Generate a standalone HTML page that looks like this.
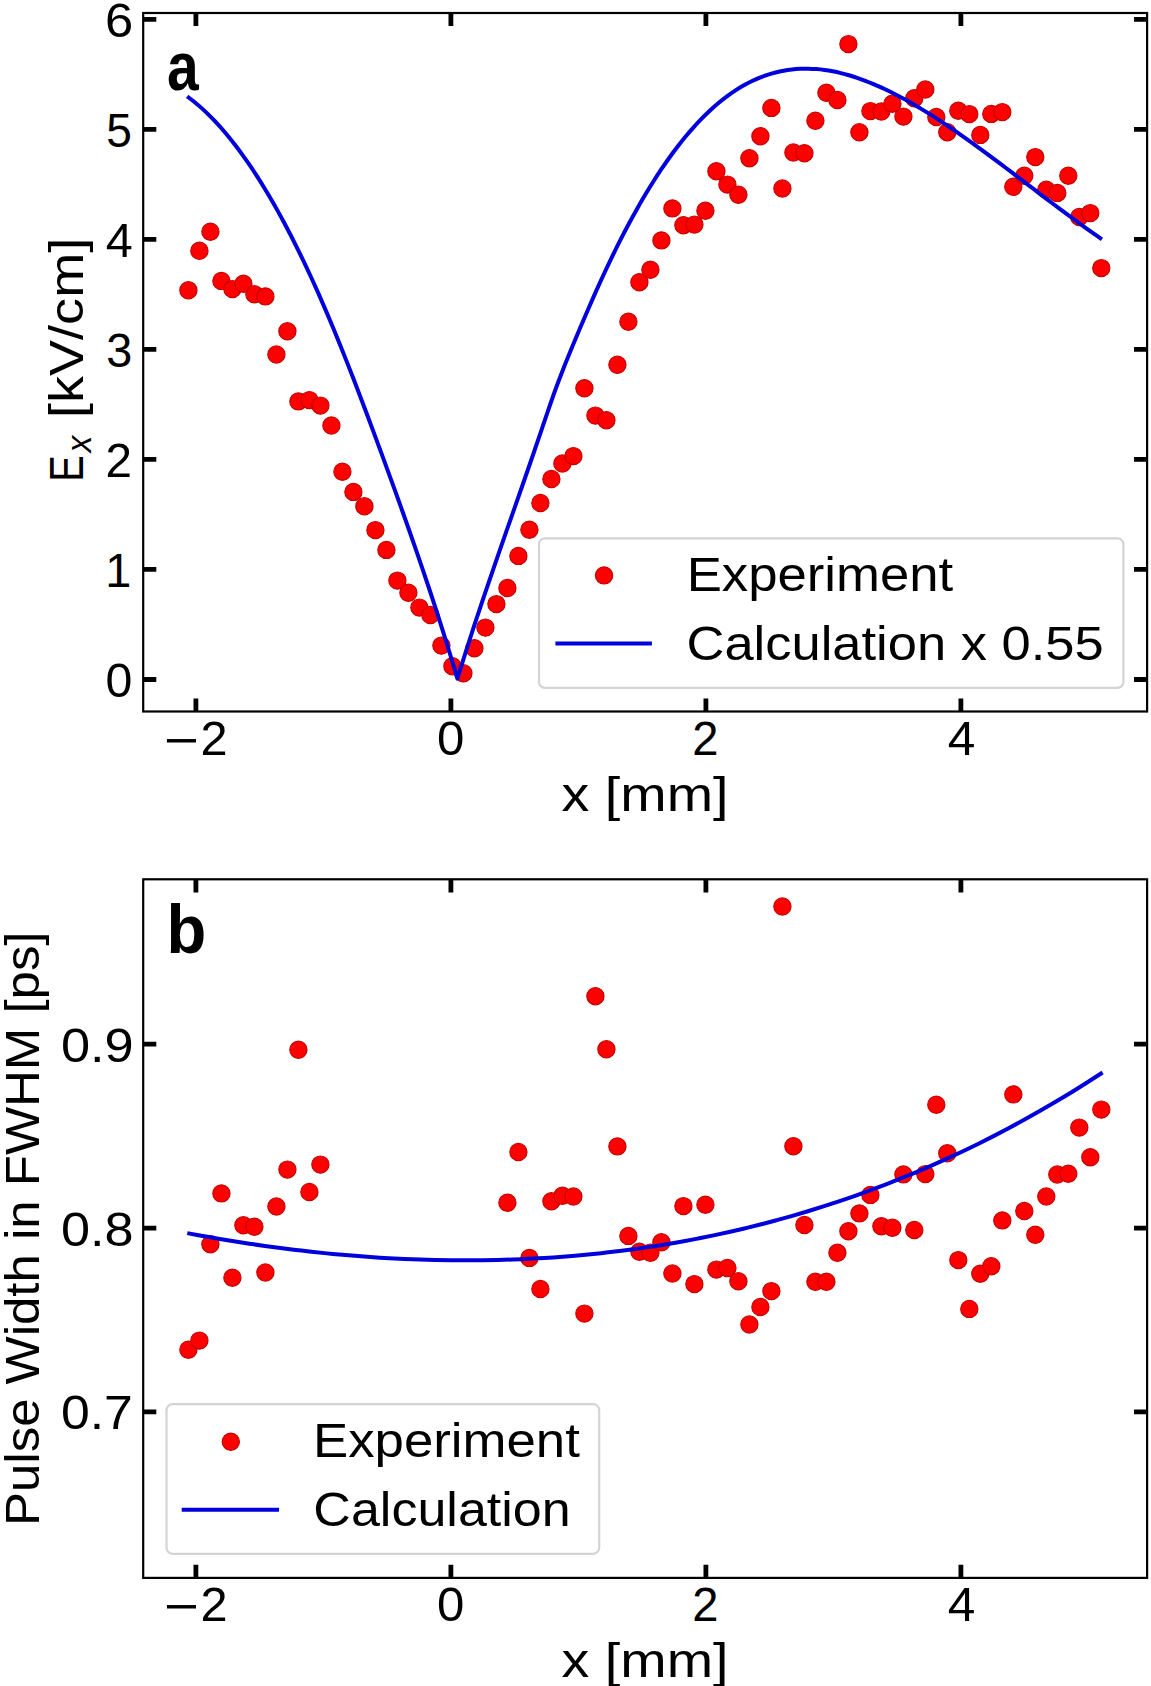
<!DOCTYPE html>
<html><head><meta charset="utf-8"><style>
html,body{margin:0;padding:0;background:#fff;}
svg{display:block;font-family:"Liberation Sans",sans-serif;font-kerning:none;}
</style></head><body>
<svg width="1151" height="1686" viewBox="0 0 1151 1686">
<rect width="1151" height="1686" fill="#fff"/>
<g fill="#ff0000" stroke="#c80000" stroke-width="1.2"><circle cx="188.4" cy="290.3" r="8.6"/><circle cx="199.4" cy="250.8" r="8.6"/><circle cx="210.4" cy="231.7" r="8.6"/><circle cx="221.4" cy="280.9" r="8.6"/><circle cx="232.4" cy="289.1" r="8.6"/><circle cx="243.4" cy="283.8" r="8.6"/><circle cx="254.4" cy="294.3" r="8.6"/><circle cx="265.4" cy="296.4" r="8.6"/><circle cx="276.4" cy="354.5" r="8.6"/><circle cx="287.4" cy="331.3" r="8.6"/><circle cx="298.4" cy="401.4" r="8.6"/><circle cx="309.4" cy="400.1" r="8.6"/><circle cx="320.4" cy="405.6" r="8.6"/><circle cx="331.4" cy="425.5" r="8.6"/><circle cx="342.4" cy="471.7" r="8.6"/><circle cx="353.4" cy="491.9" r="8.6"/><circle cx="364.4" cy="506.3" r="8.6"/><circle cx="375.4" cy="530.1" r="8.6"/><circle cx="386.4" cy="549.9" r="8.6"/><circle cx="397.4" cy="580.6" r="8.6"/><circle cx="408.4" cy="592.8" r="8.6"/><circle cx="419.4" cy="607.6" r="8.6"/><circle cx="430.4" cy="615.0" r="8.6"/><circle cx="441.4" cy="645.6" r="8.6"/><circle cx="452.4" cy="666.2" r="8.6"/><circle cx="463.4" cy="673.3" r="8.6"/><circle cx="474.4" cy="648.2" r="8.6"/><circle cx="485.4" cy="627.6" r="8.6"/><circle cx="496.4" cy="604.1" r="8.6"/><circle cx="507.4" cy="588.0" r="8.6"/><circle cx="518.4" cy="555.9" r="8.6"/><circle cx="529.4" cy="529.7" r="8.6"/><circle cx="540.4" cy="503.0" r="8.6"/><circle cx="551.4" cy="479.0" r="8.6"/><circle cx="562.4" cy="463.5" r="8.6"/><circle cx="573.4" cy="456.1" r="8.6"/><circle cx="584.4" cy="388.2" r="8.6"/><circle cx="595.4" cy="415.6" r="8.6"/><circle cx="606.4" cy="420.2" r="8.6"/><circle cx="617.4" cy="364.8" r="8.6"/><circle cx="628.4" cy="321.7" r="8.6"/><circle cx="639.4" cy="282.2" r="8.6"/><circle cx="650.4" cy="269.8" r="8.6"/><circle cx="661.4" cy="240.4" r="8.6"/><circle cx="672.4" cy="208.4" r="8.6"/><circle cx="683.4" cy="225.2" r="8.6"/><circle cx="694.4" cy="224.6" r="8.6"/><circle cx="705.4" cy="210.7" r="8.6"/><circle cx="716.4" cy="171.2" r="8.6"/><circle cx="727.4" cy="184.6" r="8.6"/><circle cx="738.4" cy="194.8" r="8.6"/><circle cx="749.4" cy="158.2" r="8.6"/><circle cx="760.4" cy="136.2" r="8.6"/><circle cx="771.4" cy="107.9" r="8.6"/><circle cx="782.4" cy="188.5" r="8.6"/><circle cx="793.4" cy="152.5" r="8.6"/><circle cx="804.4" cy="153.2" r="8.6"/><circle cx="815.4" cy="120.8" r="8.6"/><circle cx="826.4" cy="92.8" r="8.6"/><circle cx="837.4" cy="100.0" r="8.6"/><circle cx="848.4" cy="44.1" r="8.6"/><circle cx="859.4" cy="132.3" r="8.6"/><circle cx="870.4" cy="111.1" r="8.6"/><circle cx="881.4" cy="111.5" r="8.6"/><circle cx="892.4" cy="103.7" r="8.6"/><circle cx="903.4" cy="116.6" r="8.6"/><circle cx="914.3" cy="98.2" r="8.6"/><circle cx="925.3" cy="89.5" r="8.6"/><circle cx="936.3" cy="117.0" r="8.6"/><circle cx="947.3" cy="132.2" r="8.6"/><circle cx="958.3" cy="110.7" r="8.6"/><circle cx="969.3" cy="114.1" r="8.6"/><circle cx="980.3" cy="134.9" r="8.6"/><circle cx="991.3" cy="113.9" r="8.6"/><circle cx="1002.3" cy="112.1" r="8.6"/><circle cx="1013.3" cy="186.8" r="8.6"/><circle cx="1024.3" cy="175.8" r="8.6"/><circle cx="1035.3" cy="157.1" r="8.6"/><circle cx="1046.3" cy="189.8" r="8.6"/><circle cx="1057.3" cy="192.9" r="8.6"/><circle cx="1068.3" cy="175.7" r="8.6"/><circle cx="1079.3" cy="217.0" r="8.6"/><circle cx="1090.3" cy="213.1" r="8.6"/><circle cx="1101.3" cy="268.1" r="8.6"/></g>
<path d="M187.20,96.37C188.35,97.26 191.82,99.83 194.13,101.71C196.44,103.58 198.75,105.55 201.06,107.62C203.37,109.69 205.67,111.85 207.98,114.11C210.29,116.37 212.60,118.72 214.91,121.17C217.22,123.62 219.53,126.16 221.84,128.80C224.15,131.44 226.46,134.17 228.77,137.00C231.08,139.83 233.39,142.75 235.70,145.76C238.01,148.77 240.32,151.88 242.63,155.08C244.94,158.28 247.24,161.58 249.55,164.97C251.86,168.36 254.17,171.84 256.48,175.42C258.79,179.00 261.10,182.67 263.41,186.43C265.72,190.19 268.03,194.05 270.34,198.00C272.65,201.95 274.96,205.99 277.27,210.12C279.58,214.25 281.88,218.47 284.19,222.79C286.50,227.11 288.81,231.52 291.12,236.02C293.43,240.52 295.74,245.11 298.05,249.79C300.36,254.47 302.67,259.25 304.98,264.12C307.29,268.99 309.60,273.94 311.91,278.99C314.22,284.04 316.53,289.18 318.84,294.41C321.15,299.64 323.45,304.97 325.76,310.37C328.07,315.77 330.38,321.26 332.69,326.83C335.00,332.40 337.31,338.05 339.62,343.77C341.93,349.49 344.24,355.27 346.55,361.12C348.86,366.97 351.17,372.88 353.48,378.85C355.79,384.82 358.10,390.84 360.41,396.91C362.72,402.98 365.02,409.10 367.33,415.26C369.64,421.42 371.95,427.63 374.26,433.86C376.57,440.09 378.88,446.36 381.19,452.65C383.50,458.94 385.81,465.25 388.12,471.59C390.43,477.93 392.74,484.28 395.05,490.67C397.36,497.06 399.66,503.48 401.97,509.95C404.28,516.42 406.59,522.92 408.90,529.49C411.21,536.06 413.52,542.66 415.83,549.34C418.14,556.02 420.45,562.76 422.76,569.58C425.07,576.40 427.38,583.28 429.69,590.25C432.00,597.22 434.31,604.27 436.62,611.42C438.93,618.57 441.23,625.81 443.54,633.16C445.85,640.51 448.16,647.95 450.47,655.52C452.78,663.09 456.25,674.75 457.40,678.60C458.76,674.25 462.84,661.07 465.56,652.51C468.28,643.95 471.00,635.55 473.72,627.23C476.44,618.91 479.15,610.73 481.87,602.62C484.59,594.51 487.31,586.51 490.03,578.55C492.75,570.59 495.47,562.72 498.19,554.87C500.91,547.02 503.63,539.23 506.35,531.44C509.07,523.65 511.79,515.90 514.51,508.12C517.23,500.34 519.95,492.57 522.67,484.76C525.39,476.95 528.10,469.13 530.82,461.24C533.54,453.35 536.26,445.38 538.98,437.39C541.70,429.40 544.42,421.21 547.14,413.30C549.86,405.39 552.58,397.43 555.30,389.95C558.02,382.47 560.74,375.37 563.46,368.43C566.18,361.50 568.90,354.94 571.62,348.34C574.34,341.73 577.05,335.24 579.77,328.80C582.49,322.36 585.21,315.97 587.93,309.69C590.65,303.41 593.37,297.21 596.09,291.13C598.81,285.05 601.53,279.07 604.25,273.23C606.97,267.39 609.69,261.67 612.41,256.08C615.13,250.49 617.84,245.03 620.56,239.69C623.28,234.35 626.00,229.14 628.72,224.06C631.44,218.98 634.16,214.02 636.88,209.19C639.60,204.36 642.32,199.67 645.04,195.10C647.76,190.53 650.48,186.09 653.20,181.78C655.92,177.47 658.64,173.28 661.36,169.23C664.08,165.18 666.79,161.25 669.51,157.46C672.23,153.67 674.95,150.00 677.67,146.47C680.39,142.94 683.11,139.53 685.83,136.26C688.55,132.98 691.27,129.84 693.99,126.82C696.71,123.80 699.43,120.91 702.15,118.14C704.87,115.37 707.59,112.73 710.31,110.21C713.03,107.69 715.74,105.30 718.46,103.03C721.18,100.76 723.90,98.60 726.62,96.57C729.34,94.54 732.06,92.62 734.78,90.83C737.50,89.04 740.22,87.37 742.94,85.81C745.66,84.25 748.38,82.81 751.10,81.48C753.82,80.15 756.53,78.94 759.25,77.83C761.97,76.72 764.69,75.72 767.41,74.82C770.13,73.92 772.85,73.13 775.57,72.44C778.29,71.75 781.01,71.16 783.73,70.66C786.45,70.16 789.17,69.77 791.89,69.46C794.61,69.15 797.33,68.94 800.05,68.82C802.77,68.69 805.48,68.66 808.20,68.71C810.92,68.76 813.64,68.89 816.36,69.10C819.08,69.31 821.80,69.61 824.52,69.98C827.24,70.35 829.96,70.79 832.68,71.31C835.40,71.83 838.12,72.42 840.84,73.08C843.56,73.74 846.27,74.48 848.99,75.27C851.71,76.06 854.43,76.92 857.15,77.84C859.87,78.76 862.59,79.74 865.31,80.78C868.03,81.82 870.75,82.91 873.47,84.06C876.19,85.21 878.91,86.41 881.63,87.66C884.35,88.91 887.07,90.21 889.79,91.55C892.51,92.89 895.22,94.28 897.94,95.71C900.66,97.14 903.38,98.61 906.10,100.12C908.82,101.63 911.54,103.18 914.26,104.76C916.98,106.34 919.70,107.96 922.42,109.61C925.14,111.26 927.86,112.95 930.58,114.66C933.30,116.37 936.02,118.12 938.74,119.89C941.46,121.66 944.17,123.47 946.89,125.29C949.61,127.12 952.33,128.97 955.05,130.84C957.77,132.71 960.49,134.61 963.21,136.53C965.93,138.45 968.65,140.38 971.37,142.34C974.09,144.30 976.81,146.27 979.53,148.26C982.25,150.25 984.96,152.25 987.68,154.27C990.40,156.29 993.12,158.31 995.84,160.35C998.56,162.39 1001.28,164.44 1004.00,166.49C1006.72,168.55 1009.44,170.61 1012.16,172.68C1014.88,174.75 1017.60,176.83 1020.32,178.90C1023.04,180.97 1025.76,183.05 1028.48,185.13C1031.20,187.21 1033.91,189.29 1036.63,191.36C1039.35,193.43 1042.07,195.50 1044.79,197.57C1047.51,199.63 1050.23,201.70 1052.95,203.75C1055.67,205.80 1058.39,207.85 1061.11,209.88C1063.83,211.91 1066.55,213.94 1069.27,215.95C1071.99,217.96 1074.71,219.97 1077.43,221.95C1080.15,223.93 1082.86,225.90 1085.58,227.85C1088.30,229.80 1091.02,231.73 1093.74,233.64C1096.46,235.55 1100.54,238.36 1101.90,239.30" stroke="#0000dd" stroke-width="4.0" fill="none" stroke-linejoin="round" stroke-linecap="butt"/>
<rect x="539.00" y="538.30" width="584.40" height="149.60" rx="6" ry="6" fill="#fff" fill-opacity="0.8" stroke="#d4d4d4" stroke-width="2.2"/>
<circle cx="604.05" cy="575.40" r="8.60" fill="#ff0000" stroke="#c80000" stroke-width="1.2"/>
<path d="M555.40,643.40H651.90" stroke="#0000dd" stroke-width="4.0"/>
<text x="686.68" y="591.20" font-size="48.8" font-weight="normal" font-style="normal" textLength="266.51" lengthAdjust="spacingAndGlyphs" >Experiment</text>
<text x="686.54" y="659.80" font-size="48.8" font-weight="normal" font-style="normal" textLength="417.07" lengthAdjust="spacingAndGlyphs" >Calculation x 0.55</text>
<path d="M195.90,711.50v-13.10M195.90,13.00v13.10M450.90,711.50v-13.10M450.90,13.00v13.10M705.90,711.50v-13.10M705.90,13.00v13.10M960.90,711.50v-13.10M960.90,13.00v13.10M143.20,679.50h13.10M1147.10,679.50h-13.10M143.20,569.47h13.10M1147.10,569.47h-13.10M143.20,459.44h13.10M1147.10,459.44h-13.10M143.20,349.41h13.10M1147.10,349.41h-13.10M143.20,239.38h13.10M1147.10,239.38h-13.10M143.20,129.35h13.10M1147.10,129.35h-13.10M143.20,19.32h13.10M1147.10,19.32h-13.10" stroke="#000" stroke-width="4.8" fill="none"/>
<rect x="143.20" y="13.00" width="1003.90" height="698.50" fill="none" stroke="#000" stroke-width="2.2"/>
<text x="163.95" y="757.00" font-size="48.8" font-weight="normal" font-style="normal" textLength="34.98" lengthAdjust="spacingAndGlyphs" >−</text>
<text x="200.55" y="755.00" font-size="48.8" font-weight="normal" font-style="normal" textLength="27.10" lengthAdjust="spacingAndGlyphs" >2</text>
<text x="436.98" y="755.00" font-size="48.8" font-weight="normal" font-style="normal" textLength="27.34" lengthAdjust="spacingAndGlyphs" >0</text>
<text x="692.23" y="755.00" font-size="48.8" font-weight="normal" font-style="normal" textLength="26.25" lengthAdjust="spacingAndGlyphs" >2</text>
<text x="947.76" y="755.00" font-size="48.8" font-weight="normal" font-style="normal" textLength="27.59" lengthAdjust="spacingAndGlyphs" >4</text>
<text x="105.41" y="697.05" font-size="48.8" font-weight="normal" font-style="normal" textLength="26.88" lengthAdjust="spacingAndGlyphs" >0</text>
<text x="105.33" y="587.02" font-size="48.8" font-weight="normal" font-style="normal" textLength="26.06" lengthAdjust="spacingAndGlyphs" >1</text>
<text x="105.40" y="476.99" font-size="48.8" font-weight="normal" font-style="normal" textLength="26.49" lengthAdjust="spacingAndGlyphs" >2</text>
<text x="106.22" y="366.96" font-size="48.8" font-weight="normal" font-style="normal" textLength="26.04" lengthAdjust="spacingAndGlyphs" >3</text>
<text x="105.68" y="256.93" font-size="48.8" font-weight="normal" font-style="normal" textLength="27.04" lengthAdjust="spacingAndGlyphs" >4</text>
<text x="106.15" y="146.90" font-size="48.8" font-weight="normal" font-style="normal" textLength="25.69" lengthAdjust="spacingAndGlyphs" >5</text>
<text x="104.92" y="36.87" font-size="48.8" font-weight="normal" font-style="normal" textLength="28.20" lengthAdjust="spacingAndGlyphs" >6</text>
<text x="561.57" y="810.70" font-size="48.8" font-weight="normal" font-style="normal" textLength="166.99" lengthAdjust="spacingAndGlyphs" >x [mm]</text>
<text x="166.93" y="89.60" font-size="68.5" font-weight="bold" font-style="normal" textLength="31.71" lengthAdjust="spacingAndGlyphs" >a</text>
<text transform="translate(82.90,481.75) rotate(-90)" x="0" y="0" font-size="48.8" font-weight="normal" font-style="normal" textLength="26.46" lengthAdjust="spacingAndGlyphs" >E</text>
<text transform="translate(90.80,452.55) rotate(-90)" x="0" y="0" font-size="34.3" font-weight="normal" font-style="italic" textLength="16.86" lengthAdjust="spacingAndGlyphs" >x</text>
<text transform="translate(83.00,418.06) rotate(-90)" x="0" y="0" font-size="48.8" font-weight="normal" font-style="normal" textLength="180.31" lengthAdjust="spacingAndGlyphs" >[kV/cm]</text>
<g fill="#ff0000" stroke="#c80000" stroke-width="1.2"><circle cx="188.4" cy="1349.7" r="8.6"/><circle cx="199.4" cy="1340.6" r="8.6"/><circle cx="210.4" cy="1244.2" r="8.6"/><circle cx="221.4" cy="1193.4" r="8.6"/><circle cx="232.4" cy="1277.7" r="8.6"/><circle cx="243.4" cy="1225.3" r="8.6"/><circle cx="254.4" cy="1226.7" r="8.6"/><circle cx="265.4" cy="1272.5" r="8.6"/><circle cx="276.4" cy="1206.5" r="8.6"/><circle cx="287.4" cy="1169.6" r="8.6"/><circle cx="298.4" cy="1049.8" r="8.6"/><circle cx="309.4" cy="1192.0" r="8.6"/><circle cx="320.4" cy="1164.6" r="8.6"/><circle cx="507.4" cy="1202.7" r="8.6"/><circle cx="518.4" cy="1152.0" r="8.6"/><circle cx="529.4" cy="1257.9" r="8.6"/><circle cx="540.4" cy="1289.0" r="8.6"/><circle cx="551.4" cy="1201.3" r="8.6"/><circle cx="562.4" cy="1195.8" r="8.6"/><circle cx="573.4" cy="1196.5" r="8.6"/><circle cx="584.4" cy="1313.6" r="8.6"/><circle cx="595.4" cy="996.2" r="8.6"/><circle cx="606.4" cy="1049.3" r="8.6"/><circle cx="617.4" cy="1146.4" r="8.6"/><circle cx="628.4" cy="1235.9" r="8.6"/><circle cx="639.4" cy="1251.7" r="8.6"/><circle cx="650.4" cy="1252.8" r="8.6"/><circle cx="661.4" cy="1242.3" r="8.6"/><circle cx="672.4" cy="1273.5" r="8.6"/><circle cx="683.4" cy="1206.1" r="8.6"/><circle cx="694.4" cy="1284.1" r="8.6"/><circle cx="705.4" cy="1204.7" r="8.6"/><circle cx="716.4" cy="1269.6" r="8.6"/><circle cx="727.4" cy="1268.0" r="8.6"/><circle cx="738.4" cy="1281.3" r="8.6"/><circle cx="749.4" cy="1324.5" r="8.6"/><circle cx="760.4" cy="1307.0" r="8.6"/><circle cx="771.4" cy="1291.1" r="8.6"/><circle cx="782.4" cy="906.5" r="8.6"/><circle cx="793.4" cy="1146.2" r="8.6"/><circle cx="804.4" cy="1225.0" r="8.6"/><circle cx="815.4" cy="1281.8" r="8.6"/><circle cx="826.4" cy="1281.8" r="8.6"/><circle cx="837.4" cy="1252.8" r="8.6"/><circle cx="848.4" cy="1231.2" r="8.6"/><circle cx="859.4" cy="1213.4" r="8.6"/><circle cx="870.4" cy="1194.9" r="8.6"/><circle cx="881.4" cy="1226.2" r="8.6"/><circle cx="892.4" cy="1227.8" r="8.6"/><circle cx="903.4" cy="1174.4" r="8.6"/><circle cx="914.3" cy="1230.0" r="8.6"/><circle cx="925.3" cy="1174.1" r="8.6"/><circle cx="936.3" cy="1104.7" r="8.6"/><circle cx="947.3" cy="1153.3" r="8.6"/><circle cx="958.3" cy="1260.1" r="8.6"/><circle cx="969.3" cy="1308.9" r="8.6"/><circle cx="980.3" cy="1273.7" r="8.6"/><circle cx="991.3" cy="1266.2" r="8.6"/><circle cx="1002.3" cy="1220.4" r="8.6"/><circle cx="1013.3" cy="1094.4" r="8.6"/><circle cx="1024.3" cy="1211.0" r="8.6"/><circle cx="1035.3" cy="1234.8" r="8.6"/><circle cx="1046.3" cy="1196.5" r="8.6"/><circle cx="1057.3" cy="1174.5" r="8.6"/><circle cx="1068.3" cy="1173.7" r="8.6"/><circle cx="1079.3" cy="1127.6" r="8.6"/><circle cx="1090.3" cy="1157.2" r="8.6"/><circle cx="1101.3" cy="1109.6" r="8.6"/></g>
<path d="M187.30,1233.13C189.89,1233.61 197.64,1235.06 202.81,1235.99C207.98,1236.92 213.16,1237.83 218.33,1238.71C223.50,1239.59 228.67,1240.44 233.84,1241.27C239.01,1242.10 244.18,1242.90 249.35,1243.68C254.52,1244.46 259.70,1245.21 264.87,1245.93C270.04,1246.65 275.21,1247.36 280.38,1248.03C285.55,1248.70 290.72,1249.35 295.89,1249.97C301.06,1250.59 306.24,1251.18 311.41,1251.75C316.58,1252.32 321.75,1252.86 326.92,1253.37C332.09,1253.88 337.27,1254.36 342.44,1254.82C347.61,1255.28 352.78,1255.71 357.95,1256.11C363.12,1256.51 368.29,1256.89 373.46,1257.24C378.63,1257.59 383.81,1257.90 388.98,1258.19C394.15,1258.48 399.32,1258.75 404.49,1258.98C409.66,1259.21 414.83,1259.41 420.00,1259.59C425.17,1259.76 430.35,1259.91 435.52,1260.03C440.69,1260.15 445.86,1260.23 451.03,1260.29C456.20,1260.35 461.37,1260.38 466.54,1260.37C471.71,1260.36 476.89,1260.33 482.06,1260.26C487.23,1260.19 492.40,1260.11 497.57,1259.98C502.74,1259.85 507.91,1259.69 513.08,1259.50C518.25,1259.31 523.43,1259.09 528.60,1258.84C533.77,1258.59 538.94,1258.31 544.11,1257.99C549.28,1257.67 554.46,1257.32 559.63,1256.94C564.80,1256.56 569.97,1256.14 575.14,1255.69C580.31,1255.24 585.48,1254.76 590.65,1254.24C595.82,1253.72 601.00,1253.18 606.17,1252.60C611.34,1252.02 616.51,1251.39 621.68,1250.74C626.85,1250.09 632.02,1249.40 637.19,1248.68C642.36,1247.96 647.54,1247.20 652.71,1246.40C657.88,1245.61 663.05,1244.78 668.22,1243.91C673.39,1243.04 678.56,1242.14 683.73,1241.20C688.90,1240.26 694.08,1239.28 699.25,1238.27C704.42,1237.26 709.59,1236.21 714.76,1235.12C719.93,1234.03 725.10,1232.90 730.27,1231.73C735.44,1230.56 740.62,1229.36 745.79,1228.12C750.96,1226.88 756.13,1225.59 761.30,1224.27C766.47,1222.95 771.65,1221.58 776.82,1220.18C781.99,1218.78 787.16,1217.34 792.33,1215.86C797.50,1214.38 802.67,1212.85 807.84,1211.28C813.01,1209.71 818.19,1208.11 823.36,1206.46C828.53,1204.81 833.70,1203.12 838.87,1201.38C844.04,1199.64 849.21,1197.87 854.38,1196.05C859.55,1194.23 864.73,1192.37 869.90,1190.46C875.07,1188.55 880.24,1186.60 885.41,1184.60C890.58,1182.60 895.75,1180.57 900.92,1178.48C906.09,1176.39 911.27,1174.26 916.44,1172.08C921.61,1169.90 926.78,1167.67 931.95,1165.40C937.12,1163.13 942.29,1160.82 947.46,1158.45C952.63,1156.09 957.81,1153.67 962.98,1151.21C968.15,1148.75 973.32,1146.24 978.49,1143.68C983.66,1141.12 988.84,1138.51 994.01,1135.85C999.18,1133.19 1004.35,1130.49 1009.52,1127.73C1014.69,1124.97 1019.86,1122.17 1025.03,1119.31C1030.20,1116.45 1035.38,1113.54 1040.55,1110.58C1045.72,1107.62 1050.89,1104.60 1056.06,1101.53C1061.23,1098.46 1066.40,1095.34 1071.57,1092.17C1076.74,1089.00 1081.92,1085.77 1087.09,1082.49C1092.26,1079.21 1100.01,1074.15 1102.60,1072.48" stroke="#0000dd" stroke-width="4.0" fill="none" stroke-linejoin="round"/>
<rect x="166.50" y="1404.20" width="432.70" height="149.60" rx="6" ry="6" fill="#fff" fill-opacity="0.8" stroke="#d4d4d4" stroke-width="2.2"/>
<circle cx="230.80" cy="1441.70" r="8.60" fill="#ff0000" stroke="#c80000" stroke-width="1.2"/>
<path d="M181.70,1509.70H279.00" stroke="#0000dd" stroke-width="4.0"/>
<text x="312.97" y="1457.40" font-size="48.8" font-weight="normal" font-style="normal" textLength="266.92" lengthAdjust="spacingAndGlyphs" >Experiment</text>
<text x="313.36" y="1525.60" font-size="48.8" font-weight="normal" font-style="normal" textLength="257.32" lengthAdjust="spacingAndGlyphs" >Calculation</text>
<path d="M195.90,1577.90v-13.10M195.90,879.30v13.10M450.90,1577.90v-13.10M450.90,879.30v13.10M705.90,1577.90v-13.10M705.90,879.30v13.10M960.90,1577.90v-13.10M960.90,879.30v13.10M143.20,1411.90h13.10M1147.10,1411.90h-13.10M143.20,1228.05h13.10M1147.10,1228.05h-13.10M143.20,1044.20h13.10M1147.10,1044.20h-13.10" stroke="#000" stroke-width="4.8" fill="none"/>
<rect x="143.20" y="879.30" width="1003.90" height="698.60" fill="none" stroke="#000" stroke-width="2.2"/>
<text x="163.95" y="1623.40" font-size="48.8" font-weight="normal" font-style="normal" textLength="34.98" lengthAdjust="spacingAndGlyphs" >−</text>
<text x="200.55" y="1621.40" font-size="48.8" font-weight="normal" font-style="normal" textLength="27.10" lengthAdjust="spacingAndGlyphs" >2</text>
<text x="436.98" y="1621.40" font-size="48.8" font-weight="normal" font-style="normal" textLength="27.34" lengthAdjust="spacingAndGlyphs" >0</text>
<text x="692.23" y="1621.40" font-size="48.8" font-weight="normal" font-style="normal" textLength="26.25" lengthAdjust="spacingAndGlyphs" >2</text>
<text x="947.76" y="1621.40" font-size="48.8" font-weight="normal" font-style="normal" textLength="27.59" lengthAdjust="spacingAndGlyphs" >4</text>
<text x="60.98" y="1429.45" font-size="48.8" font-weight="normal" font-style="normal" textLength="71.92" lengthAdjust="spacingAndGlyphs" >0.7</text>
<text x="60.96" y="1245.60" font-size="48.8" font-weight="normal" font-style="normal" textLength="72.61" lengthAdjust="spacingAndGlyphs" >0.8</text>
<text x="60.95" y="1061.75" font-size="48.8" font-weight="normal" font-style="normal" textLength="72.83" lengthAdjust="spacingAndGlyphs" >0.9</text>
<text x="561.57" y="1676.50" font-size="48.8" font-weight="normal" font-style="normal" textLength="166.99" lengthAdjust="spacingAndGlyphs" >x [mm]</text>
<text x="166.41" y="953.40" font-size="68.5" font-weight="bold" font-style="normal" textLength="39.76" lengthAdjust="spacingAndGlyphs" >b</text>
<text transform="translate(39.10,1525.98) rotate(-90)" x="0" y="0" font-size="48.8" font-weight="normal" font-style="normal" textLength="594.51" lengthAdjust="spacingAndGlyphs" >Pulse Width in FWHM [ps]</text>
</svg>
</body></html>
